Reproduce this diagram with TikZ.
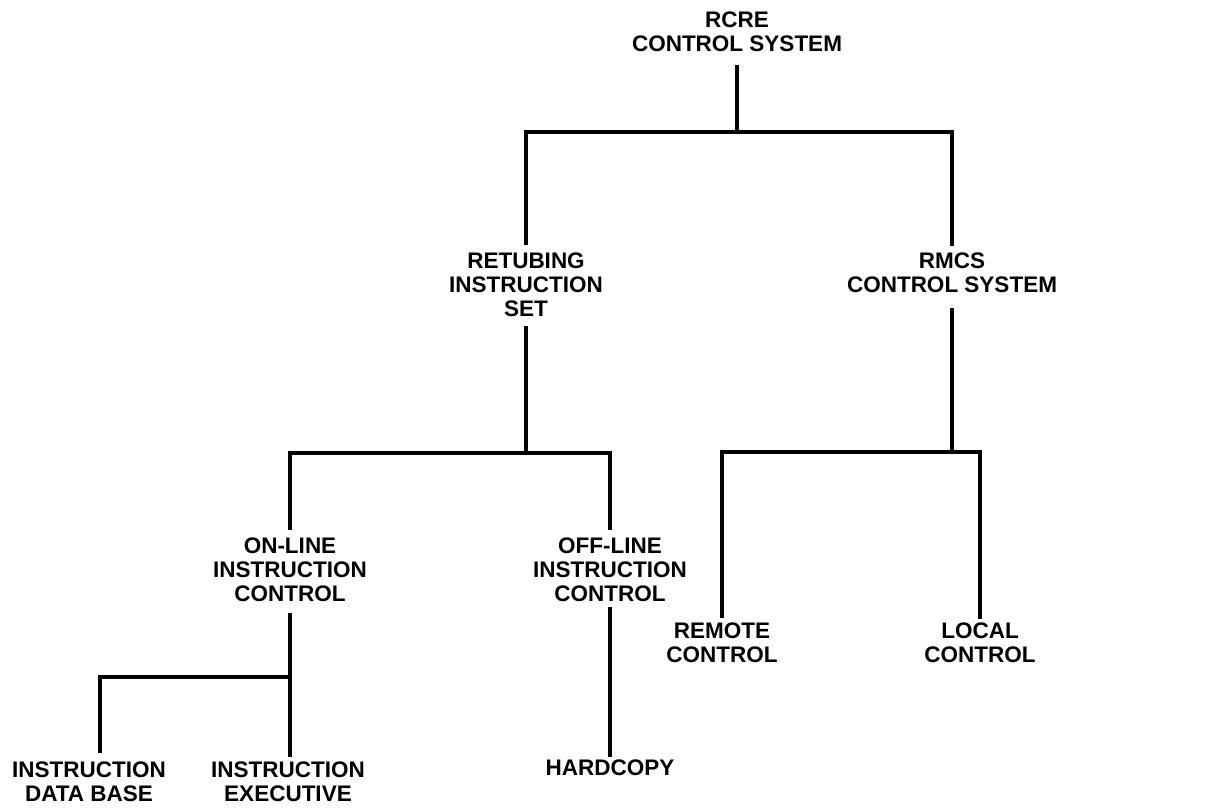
\documentclass[tikz,border=0pt]{standalone}
\usepackage{fontspec}
\setmainfont{Liberation Sans}
\begin{document}
\begin{tikzpicture}[x=1pt,y=-1pt,
  lbl/.style={align=center,inner sep=0pt,anchor=north,font=\fontsize{22.5}{24}\selectfont\bfseries},
  link/.style={line width=3.2pt,line cap=butt,line join=miter}]
\useasboundingbox (0,0) rectangle (1218,808);
% nodes
\node[lbl] (rcre)     at (737,12)  {RCRE\\CONTROL SYSTEM};
\node[lbl] (retub)    at (526,253) {RETUBING\\INSTRUCTION\\SET};
\node[lbl] (rmcs)     at (952,253) {RMCS\\CONTROL SYSTEM};
\node[lbl] (online)   at (290,538) {ON-LINE\\INSTRUCTION\\CONTROL};
\node[lbl] (offline)  at (610,538) {OFF-LINE\\INSTRUCTION\\CONTROL};
\node[lbl] (remote)   at (722,623) {REMOTE\\CONTROL};
\node[lbl] (local)    at (980,623) {LOCAL\\CONTROL};
\node[lbl] (hardcopy) at (610,760) {HARDCOPY};
\node[lbl] (idb)      at (89,762)  {INSTRUCTION\\DATA BASE};
\node[lbl] (iex)      at (288,762) {INSTRUCTION\\EXECUTIVE};
% junctions
\coordinate (t1) at (737,132);
\coordinate (t2) at (526,453);
\coordinate (t3) at (952,452);
\coordinate (t4) at (290,677);
\coordinate (t5) at (100,677);
% connectors
\draw[link,shorten <=13pt] (rcre.south) -- (t1);
\draw[link,shorten <=8pt,shorten >=7pt] (retub.north) |- (t1) -| (rmcs.north);
\draw[link,shorten <=9pt] (retub.south) -- (t2);
\draw[link,shorten <=8pt,shorten >=8pt] (online.north) |- (t2) -| (offline.north);
\draw[link,shorten <=15pt] (rmcs.south) -- (t3);
\draw[link,shorten <=5pt,shorten >=4pt] (remote.north) |- (t3) -| (local.north);
\draw[link,shorten <=11pt,shorten >=5pt] (online.south) -- (online.south |- iex.north);
\draw[link,shorten >=9pt] (t4) -- (t5) -- (t5 |- idb.north);
\draw[link,shorten <=5pt,shorten >=3pt] (offline.south) -- (hardcopy.north);
\end{tikzpicture}
\end{document}
